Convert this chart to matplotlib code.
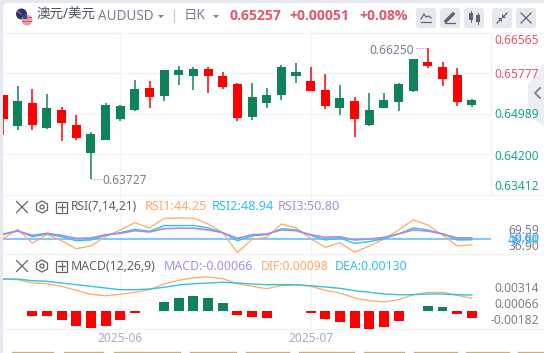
import matplotlib

matplotlib.use("Agg")
import matplotlib.pyplot as plt
from matplotlib.patches import Circle, FancyBboxPatch, Polygon, Rectangle

W, H = 544, 353

plt.rcParams["font.family"] = ["Noto Sans", "Noto Sans CJK SC", "DejaVu Sans"]

# daily candles, green = up
opens = [0.65353, 0.64750, 0.65197, 0.64711, 0.65061, 0.64769, 0.64224, 0.64477, 0.64886, 0.65061,
         0.65489, 0.65333, 0.65742, 0.65723, 0.65859, 0.65723, 0.65567, 0.64925, 0.65197, 0.65353,
         0.65723, 0.65625, 0.65450, 0.65100, 0.65236, 0.64769, 0.65100, 0.65217, 0.65431, 0.65995,
         0.65898, 0.65742, 0.65158]
closes = [0.64886, 0.65236, 0.64769, 0.65100, 0.64808, 0.64516, 0.64594, 0.65158, 0.65139, 0.65470,
          0.65314, 0.65839, 0.65839, 0.65859, 0.65723, 0.65508, 0.64905, 0.65314, 0.65353, 0.65898,
          0.65800, 0.65431, 0.65139, 0.65294, 0.64886, 0.65061, 0.65255, 0.65567, 0.66053, 0.65917,
          0.65664, 0.65217, 0.65257]
highs = [0.65353, 0.65528, 0.65470, 0.65372, 0.65119, 0.64964, 0.64633, 0.65197, 0.65158, 0.65645,
         0.65625, 0.65839, 0.65917, 0.65898, 0.65898, 0.65800, 0.65586, 0.65586, 0.65489, 0.65937,
         0.65975, 0.65898, 0.65761, 0.65547, 0.65314, 0.65392, 0.65392, 0.65586, 0.66053, 0.66267,
         0.65995, 0.65878, 0.65275]
lows = [0.64574, 0.64672, 0.64672, 0.64691, 0.64458, 0.64477, 0.63712, 0.64477, 0.64847, 0.65041,
        0.65100, 0.65236, 0.65547, 0.65450, 0.65392, 0.65470, 0.64847, 0.64866, 0.65100, 0.65255,
        0.65586, 0.65431, 0.65080, 0.64964, 0.64535, 0.64750, 0.65100, 0.65041, 0.65411, 0.65878,
        0.65528, 0.65139, 0.65119]

rsi1 = [50.0, 58.9, 45.9, 54.2, 48.1, 40.5, 43.1, 51.9, 58.3, 65.2, 60.2, 69.4, 69.59, 69.5, 64.0, 55.7, 36.9,
        49.4, 51.3, 64.0, 60.2, 50.0, 41.8, 46.2, 37.2, 43.1, 49.4, 58.3, 67.8, 63.0, 53.5, 43.1, 44.25]
rsi2 = [53.8, 57.6, 51.9, 54.5, 51.9, 48.1, 48.8, 53.2, 55.7, 58.9, 57.0, 62.4, 62.4, 62.6, 60.2, 55.7, 48.1,
        52.6, 53.8, 59.5, 58.3, 53.2, 48.8, 50.7, 45.6, 47.2, 50.0, 54.5, 60.2, 58.3, 54.5, 48.8, 48.94]
rsi3 = [54.5, 57.3, 53.2, 55.1, 53.2, 50.4, 50.7, 53.8, 55.1, 57.6, 56.4, 59.5, 59.9, 59.9, 58.3, 55.7, 50.4,
        53.8, 54.5, 58.3, 57.6, 53.8, 51.3, 51.9, 48.8, 49.7, 51.3, 54.5, 58.3, 57.3, 54.5, 50.7, 50.80]

dif = [0.0029, 0.00283, 0.0025, 0.00243, 0.00217, 0.00177, 0.00137, 0.00123, 0.00137, 0.00157, 0.00183,
       0.0024, 0.00277, 0.003, 0.0031, 0.00293, 0.00243, 0.00217, 0.00193, 0.00223, 0.00233, 0.00217,
       0.00177, 0.0015, 0.001, 0.00073, 0.0006, 0.00083, 0.00133, 0.00157, 0.00157, 0.00127, 0.00098]
dea = [0.0029, 0.0029, 0.00273, 0.00267, 0.0025, 0.00233, 0.00217, 0.002, 0.00183, 0.00183, 0.0019,
       0.00207, 0.0023, 0.00243, 0.0025, 0.00257, 0.0025, 0.0024, 0.00233, 0.00233, 0.00233, 0.00223,
       0.0021, 0.00197, 0.00173, 0.00157, 0.0014, 0.00133, 0.00133, 0.0014, 0.0014, 0.00133, 0.0013]
macd = [0.00003, 0.00003, -0.00051, -0.00051, -0.00091, -0.00152, -0.00172, -0.00152, -0.00091, -0.0002, 0.00003,
        0.00091, 0.00131, 0.00152, 0.00131, 0.00081, -0.0004, -0.00061, -0.00071, -0.00005, 0.00003, -0.0002,
        -0.00081, -0.00111, -0.00172, -0.00182, -0.00162, -0.00101, 0.00003, 0.00051, 0.0004, -0.0003, -0.00066]

price_ticks = [0.66565, 0.65777, 0.64989, 0.64200, 0.63412]
date_ticks = {8: "2025-06", 21: "2025-07"}

RED = "#ff0000"
GREEN = "#108259"
TXT_RED = "#e2566c"
TXT_TEAL = "#1aa68c"
GRAY = "#7b7f8e"
GRID = "#f3f4f8"
ORANGE = "#ffa964"
CYAN = "#2fc4de"
PURPLE = "#a98ce6"
BTN = "#e6e8ef"
ICON = "#5f6472"


def px_axes(fig, x0, y0, x1, y1):
    ax = fig.add_axes([x0 / W, 1 - y1 / H, (x1 - x0) / W, (y1 - y0) / H])
    ax.patch.set_alpha(0)
    ax.axis("off")
    return ax


def px_text(ax, x, y, s, size=12, color=GRAY, ha="left", weight="normal", family=None):
    # size is in pixels, dpi is 100
    ax.text(x, y, s, fontsize=size * 0.72, color=color, ha=ha, va="center", fontweight=weight, family=family)


def close_icon(ax, cx, cy, r, color=ICON):
    ax.plot([cx - r, cx + r], [cy - r, cy + r], color=color, lw=0.9)
    ax.plot([cx - r, cx + r], [cy + r, cy - r], color=color, lw=0.9)


def panel_icons(ax, cy):
    close_icon(ax, 22, cy, 5.5)
    ax.add_patch(Polygon([(42, cy - 6), (47.5, cy - 3), (47.5, cy + 3), (42, cy + 6), (36.5, cy + 3), (36.5, cy - 3)],
                         fill=False, ec=ICON, lw=0.9))
    ax.add_patch(Circle((42, cy), 2, fill=False, ec=ICON, lw=0.9))
    ax.add_patch(Rectangle((56, cy - 5.5), 11, 11, fill=False, ec=ICON, lw=0.9))
    ax.plot([58, 65], [cy, cy], color=ICON, lw=0.9)
    ax.plot([61.5, 61.5], [cy - 3.5, cy + 3.5], color=ICON, lw=0.9)


fig = plt.figure(figsize=(W / 100, H / 100), dpi=100, facecolor="#e6e9f2")

chrome = px_axes(fig, 0, 0, W, H)
chrome.set_xlim(0, W)
chrome.set_ylim(H, 0)
chrome.add_patch(FancyBboxPatch((3, 3), W + 20, H + 20, boxstyle="round,pad=0,rounding_size=5", fc="white", ec="none"))

# panel separators
for y in [33, 195, 254, 329]:
    chrome.plot([3, W], [y, y], color=GRID, lw=1)
chrome.plot([491, 491], [33, 195], color=GRID, lw=1)

# flags
chrome.add_patch(Circle((21.5, 14), 5.5, fc="#27346f", ec="none"))
chrome.plot([17.5, 21], [11, 14], color="#e2566c", lw=0.9)
chrome.add_patch(Circle((27, 20), 5.5, fc="#e8a0a8", ec="none"))
chrome.add_patch(Rectangle((22, 17), 10, 1.2, fc="#e2566c", ec="none"))
chrome.add_patch(Rectangle((22, 20.5), 10, 1.2, fc="#e2566c", ec="none"))
chrome.add_patch(Rectangle((23, 15), 4, 3.5, fc="#3a4a88", ec="none"))

# header
px_text(chrome, 36, 15.5, "澳元/美元", size=13.5, color="#4d5160")
px_text(chrome, 98, 16.5, "AUDUSD", size=13.5, color=GRAY)
chrome.add_patch(Polygon([(158, 15), (164, 15), (161, 18)], fc=GRAY, ec="none"))
chrome.plot([174, 174], [10, 22], color="#c9ccd6", lw=0.9)
px_text(chrome, 184, 15.5, "日K", size=13.5, color=GRAY)
chrome.add_patch(Polygon([(213, 15), (219, 15), (216, 18)], fc=GRAY, ec="none"))
px_text(chrome, 229, 15.5, "0.65257", size=14, color=TXT_RED, weight="bold", family="Open Sans")
px_text(chrome, 289, 15.5, "+0.00051", size=14, color=TXT_RED, weight="bold", family="Open Sans")
px_text(chrome, 359, 15.5, "+0.08%", size=14, color=TXT_RED, weight="bold", family="Open Sans")

# toolbar buttons
for x in [416, 440, 464, 492, 516]:
    chrome.add_patch(FancyBboxPatch((x, 8), 20, 20, boxstyle="round,pad=0,rounding_size=3", fc=BTN, ec="none"))
chrome.plot([421, 424, 426, 429, 431], [19, 14, 17, 16, 18], color=ICON, lw=0.9)
chrome.plot([421, 431], [22, 22], color=ICON, lw=0.9)
chrome.plot([446, 453], [21, 14], color=ICON, lw=2.4)
chrome.plot([445, 455], [23, 23], color=ICON, lw=0.9)
chrome.add_patch(Rectangle((469, 13), 3.5, 7, fc=ICON, ec="none"))
chrome.add_patch(Rectangle((476, 15), 3.5, 7, fc=ICON, ec="none"))
chrome.plot([470.7, 470.7], [11, 22], color=ICON, lw=0.7)
chrome.plot([477.7, 477.7], [13, 24], color=ICON, lw=0.7)
chrome.plot([497, 501], [23, 19], color=ICON, lw=0.9)
chrome.plot([503, 507], [17, 13], color=ICON, lw=0.9)
chrome.add_patch(Polygon([(498, 18), (502, 18), (502, 22)], fc=ICON, ec="none"))
chrome.add_patch(Polygon([(502, 18), (506, 18), (502, 14)], fc=ICON, ec="none"))
close_icon(chrome, 526, 18, 5)

# side tab
chrome.add_patch(Polygon([(544, 62), (528, 85), (528, 115), (544, 126)], fc="#eceef4", ec="none"))
chrome.plot([540, 535, 540], [88, 93, 98], color=GRAY, lw=1.3)

# price labels
for tick, y in zip(price_ticks, [41, 74.7, 115, 156, 187]):
    px_text(chrome, 494, y, f"{tick:.5f}", color=TXT_RED if tick > 0.652 else TXT_TEAL)

# hi/lo labels
px_text(chrome, 369, 50, "0.66250")
chrome.plot([416, 427], [48, 48], color=GRAY, lw=0.7, ls=(0, (1, 2)))
px_text(chrome, 102, 181, "0.63727")
chrome.plot([91, 101], [179, 179], color=GRAY, lw=0.7, ls=(0, (1, 2)))

# RSI header and labels
panel_icons(chrome, 207)
px_text(chrome, 71, 207, "RSI(7,14,21)", color="#5b5f6d")
px_text(chrome, 145, 207, f"RSI1:{rsi1[-1]:.2f}", size=12.8, color=ORANGE)
px_text(chrome, 212, 207, f"RSI2:{rsi2[-1]:.2f}", size=12.8, color=CYAN)
px_text(chrome, 278, 207, f"RSI3:{rsi3[-1]:.2f}", size=12.8, color=PURPLE)
px_text(chrome, 539, 230, "69.59", ha="right")
px_text(chrome, 539, 247, "36.90", ha="right")
px_text(chrome, 539, 240, f"{rsi2[-1]:.2f}", color=CYAN, ha="right")
px_text(chrome, 539, 238, f"{rsi3[-1]:.2f}", color=PURPLE, ha="right")
px_text(chrome, 539, 239, "50.00", color="#4da6f5", ha="right")

# MACD header and labels
panel_icons(chrome, 266)
px_text(chrome, 71, 266, "MACD(12,26,9)", size=12.3, color="#5b5f6d")
px_text(chrome, 164, 266, f"MACD:{macd[-1]:.5f}", size=12.4, color=PURPLE)
px_text(chrome, 261, 266, f"DIF:{dif[-1]:.5f}", size=12.2, color=ORANGE)
px_text(chrome, 335, 266, f"DEA:{dea[-1]:.5f}", size=12.3, color=CYAN)
for s, y in [("0.00314", 288), ("0.00066", 305), ("-0.00182", 321)]:
    px_text(chrome, 539, y, s, ha="right")

# date labels and shared vertical grid
for i, label in date_ticks.items():
    x = 3 + 14.65 * i
    chrome.plot([x, x], [33, 329], color=GRID, lw=1)
    px_text(chrome, x, 338, label, color="#a9adbd", ha="center")

# tab row just peeking in at the bottom
for x0, x1 in [(12, 53), (64, 103), (114, 180), (190, 236), (246, 289), (299, 354), (364, 404), (414, 457),
               (466, 509), (518, 544)]:
    chrome.plot([x0, x1], [352, 352], color="#d2aa6e", lw=1)

x = list(range(len(closes)))
xlim = (0, (491 - 3) / 14.65)

# candles
ax = px_axes(fig, 3, 33, 491, 195)
ax.set_xlim(*xlim)
px_per_price = 40.5 / 0.00788
ax.set_ylim(0.65777 - (195 - 73.2) / px_per_price, 0.65777 + (73.2 - 33) / px_per_price)
for tick in price_ticks[1:4]:
    ax.axhline(tick, color=GRID, lw=1, zorder=0)
for i in x:
    color = GREEN if closes[i] >= opens[i] else RED
    ax.vlines(i, lows[i], highs[i], color=color, lw=1.1, zorder=2)
    ax.bar(i, abs(closes[i] - opens[i]), bottom=min(opens[i], closes[i]), width=0.62, color=color, zorder=3)

# RSI, about 0.95 units per pixel with 50 at y=238.7
ax_rsi = px_axes(fig, 3, 195, 491, 254)
ax_rsi.set_xlim(*xlim)
ax_rsi.set_ylim(50 - (254 - 238.7) * 0.95, 50 + (238.7 - 195) * 0.95)
ax_rsi.axhline(50, color="#5fb8ff", lw=1.1, zorder=1)
ax_rsi.plot(x, rsi1, color=ORANGE, lw=0.9, zorder=2)
ax_rsi.plot(x, rsi2, color=CYAN, lw=1.0, zorder=3)
ax_rsi.plot(x, rsi3, color=PURPLE, lw=1.2, zorder=4)

# MACD lines sit on their own scale, histogram has zero at y=311
ax_lines = px_axes(fig, 3, 254, 491, 329)
ax_lines.set_xlim(*xlim)
ax_lines.set_ylim(0.0013 - (329 - 295) * 0.0001, 0.0013 + (295 - 254) * 0.0001)
ax_lines.plot(x, dif, color=ORANGE, lw=0.9, zorder=2)
ax_lines.plot(x, dea, color=CYAN, lw=1.0, zorder=3)

ax_hist = px_axes(fig, 3, 254, 491, 329)
ax_hist.set_xlim(*xlim)
ax_hist.set_ylim(-(329 - 311) * 0.000101, (311 - 254) * 0.000101)
ax_hist.bar(x, macd, width=0.68, color=[GREEN if v > 0 else RED for v in macd])

fig.savefig("out.png", dpi=100, facecolor=fig.get_facecolor())
plt.close(fig)
